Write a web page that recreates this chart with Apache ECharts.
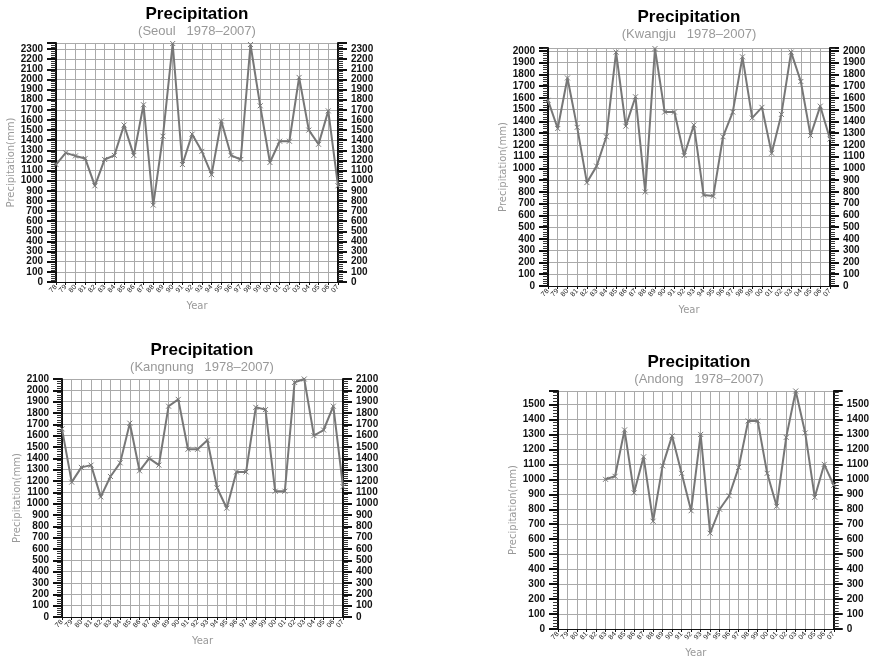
<!DOCTYPE html>
<html>
<head>
<meta charset="utf-8">
<script src="https://cdn.jsdelivr.net/npm/echarts@6/dist/echarts.min.js"></script>
<style>
  html, body { margin: 0; padding: 0; background: #fff; }
  #main { width: 872px; height: 661px; }
</style>
</head>
<body>
<div id="main"></div>
<script>
// years 1978 - 2007, shown as two digits
const years = ['78', '79', '80', '81', '82', '83', '84', '85', '86', '87',
  '88', '89', '90', '91', '92', '93', '94', '95', '96', '97',
  '98', '99', '00', '01', '02', '03', '04', '05', '06', '07'];

// annual precipitation (mm)
const seoul = [1160, 1275, 1245, 1220, 950, 1210, 1250, 1550, 1250, 1750,
  760, 1440, 2355, 1160, 1460, 1290, 1060, 1590, 1250, 1210,
  2345, 1740, 1180, 1390, 1390, 2020, 1500, 1360, 1690, 950];
const kwangju = [1580, 1340, 1770, 1350, 880, 1020, 1270, 1990, 1360, 1610,
  800, 2020, 1480, 1480, 1110, 1370, 775, 765, 1270, 1480,
  1950, 1430, 1520, 1130, 1460, 1990, 1740, 1280, 1530, 1250];
const kangnung = [1660, 1190, 1320, 1340, 1060, 1240, 1360, 1710, 1290, 1400,
  1340, 1860, 1920, 1480, 1480, 1560, 1140, 960, 1280, 1280,
  1850, 1830, 1110, 1110, 2070, 2100, 1600, 1650, 1860, 1150];
const andong = [null, null, null, null, null, 1000, 1020, 1330, 910, 1150,
  720, 1090, 1290, 1040, 790, 1300, 640, 800, 890, 1080,
  1390, 1390, 1040, 820, 1280, 1590, 1310, 880, 1100, 960];

const stations = ['Seoul', 'Kwangju', 'Kangnung', 'Andong'];
const series = [seoul, kwangju, kangnung, andong];
const yMax = [2360, 2025, 2100, 1590];

// panel layout: plot box and title centre
const boxes = [
  { left: 56, top: 43, width: 282, height: 239, tx: 197, ty: 6 },
  { left: 548, top: 48, width: 282, height: 238, tx: 689, ty: 9 },
  { left: 62, top: 379, width: 281, height: 238, tx: 202, ty: 342 },
  { left: 558, top: 391, width: 281, height: 238, tx: 699, ty: 354 }
];

const lineColor = '#777';
const gridColor = '#aaa';
const axisColor = '#111';

function yAxisOf(i, pos) {
  const max = yMax[i];
  return {
    gridIndex: i,
    type: 'value',
    position: pos,
    min: 0,
    max: max,
    interval: 100,
    axisLine: { show: true, lineStyle: { color: axisColor, width: 2 } },
    axisTick: { show: true, length: 9, lineStyle: { color: axisColor, width: 2 } },
    minorTick: { show: true, splitNumber: 5, length: 5, lineStyle: { color: '#333', width: 1 } },
    axisLabel: {
      margin: 13, fontSize: 10, color: '#111', fontWeight: 'bold', fontFamily: 'Liberation Sans',
      showMaxLabel: max % 100 === 0,
      formatter: v => String(v)
    },
    splitLine: { show: pos === 'left', lineStyle: { color: gridColor, width: 1 } },
    name: pos === 'left' ? 'Precipitation(mm)' : '',
    nameLocation: 'middle',
    nameGap: 33,
    nameTextStyle: { color: '#999', fontSize: 10, fontFamily: 'DejaVu Sans' }
  };
}

const option = {
  animation: false,
  backgroundColor: '#fff',
  title: boxes.map((b, i) => ({
    text: 'Precipitation',
    subtext: '(' + stations[i] + '   1978\u20132007)',
    left: b.tx,
    top: b.ty,
    textAlign: 'center',
    padding: 0,
    itemGap: 2,
    textStyle: { fontSize: 17, fontWeight: 'bold', color: '#000', fontFamily: 'Liberation Sans' },
    subtextStyle: { fontSize: 13, color: '#999', fontFamily: 'Liberation Sans' }
  })),
  grid: boxes.map(b => ({ left: b.left, top: b.top, width: b.width, height: b.height })),
  xAxis: boxes.map((b, i) => ({
    gridIndex: i,
    type: 'category',
    data: years,
    boundaryGap: false,
    axisLine: { lineStyle: { color: axisColor, width: 1 } },
    axisTick: { show: true, interval: 0, length: 3, lineStyle: { color: axisColor } },
    axisLabel: { interval: 0, rotate: 45, fontSize: 7, color: '#222', margin: 4 },
    splitLine: { show: true, interval: 0, lineStyle: { color: gridColor, width: 1 } },
    name: 'Year',
    nameLocation: 'middle',
    nameGap: 19,
    nameTextStyle: { color: '#999', fontSize: 10, fontFamily: 'DejaVu Sans' }
  })),
  yAxis: [],
  series: []
};

for (let i = 0; i < 4; i++) {
  option.yAxis.push(yAxisOf(i, 'left'));
  option.yAxis.push(yAxisOf(i, 'right'));
  option.series.push({
    type: 'line',
    name: stations[i],
    xAxisIndex: i,
    yAxisIndex: i * 2,
    data: series[i],
    connectNulls: false,
    symbol: 'path://M0,0L10,10M10,0L0,10',
    symbolSize: 5,
    itemStyle: { color: 'none', borderColor: lineColor, borderWidth: 1 },
    lineStyle: { color: lineColor, width: 2 }
  });
}

const chart = echarts.init(document.getElementById('main'));
chart.setOption(option);
</script>
</body>
</html>
